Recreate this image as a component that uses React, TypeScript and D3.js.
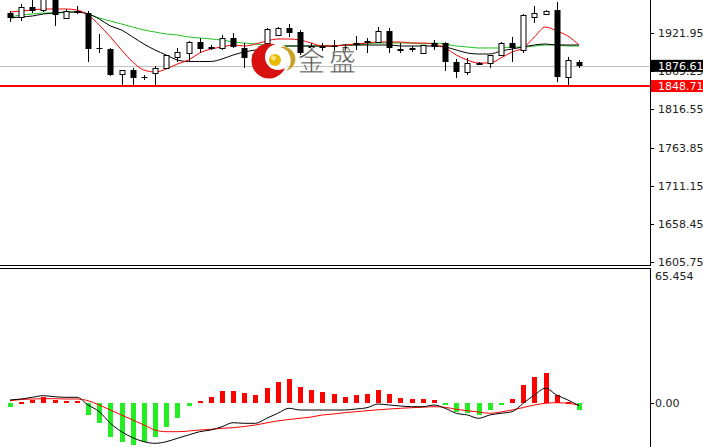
import React from "react";
import * as d3 from "d3";

// ---- Data ----
const openP = [1949.57, 1944.04, 1957.85, 1953.71, 1970.28, 1942.66, 1950.95, 1949.57, 1901.24, 1899.86, 1865.34, 1870.86, 1861.2, 1866.72, 1873.62, 1888.81, 1894.33, 1909.52, 1901.24, 1901.24, 1915.05, 1901.24, 1887.43, 1908.14, 1919.19, 1928.85, 1923.33, 1902.62, 1902.62, 1904.0, 1901.24, 1906.76, 1909.52, 1909.52, 1924.71, 1898.48, 1899.17, 1894.33, 1908.14, 1908.14, 1881.91, 1868.1, 1880.53, 1880.53, 1891.57, 1908.14, 1898.48, 1944.04, 1948.19, 1953.71, 1861.2, 1881.91];
const highP = [1952.33, 1961.99, 1970.28, 1974.42, 1975.8, 1955.09, 1959.23, 1952.33, 1920.57, 1901.24, 1870.86, 1873.62, 1863.96, 1876.38, 1891.57, 1901.24, 1910.9, 1915.05, 1905.38, 1919.19, 1921.95, 1908.14, 1895.72, 1928.85, 1930.23, 1934.38, 1926.09, 1908.14, 1908.14, 1912.28, 1906.76, 1917.81, 1915.05, 1930.23, 1928.85, 1908.14, 1904.0, 1905.38, 1912.28, 1909.52, 1886.05, 1887.43, 1881.91, 1891.57, 1909.52, 1916.43, 1948.19, 1959.23, 1953.71, 1964.75, 1888.81, 1884.67];
const lowP = [1937.14, 1938.52, 1949.57, 1950.95, 1931.62, 1941.28, 1948.19, 1881.91, 1894.33, 1862.58, 1850.15, 1850.15, 1857.05, 1850.15, 1873.62, 1881.91, 1881.91, 1894.33, 1898.48, 1898.48, 1901.24, 1873.62, 1876.38, 1898.48, 1917.81, 1916.43, 1891.57, 1895.72, 1897.1, 1891.57, 1897.1, 1898.48, 1894.33, 1909.52, 1894.33, 1894.33, 1895.72, 1894.33, 1898.48, 1869.48, 1859.81, 1863.96, 1877.76, 1873.62, 1890.19, 1881.91, 1894.33, 1935.76, 1948.19, 1854.29, 1850.15, 1873.62];
const closeP = [1942.66, 1957.85, 1952.33, 1968.9, 1946.8, 1952.33, 1952.33, 1899.86, 1899.86, 1863.96, 1870.86, 1859.81, 1860.51, 1873.62, 1891.57, 1895.72, 1909.52, 1899.86, 1901.93, 1915.05, 1902.62, 1887.43, 1892.95, 1927.47, 1928.85, 1921.95, 1894.33, 1903.31, 1903.31, 1902.62, 1901.93, 1908.14, 1910.9, 1924.71, 1901.24, 1899.17, 1900.55, 1905.38, 1902.62, 1881.91, 1868.1, 1880.53, 1877.76, 1891.57, 1908.14, 1901.24, 1946.8, 1949.57, 1952.33, 1861.2, 1884.67, 1876.61];

const maFast = [1950.95, 1952.33, 1953.71, 1955.09, 1955.09, 1955.09, 1953.71, 1946.8, 1933.0, 1916.43, 1898.48, 1881.91, 1870.86, 1868.1, 1872.24, 1879.15, 1884.67, 1894.33, 1899.86, 1902.62, 1905.38, 1904.0, 1906.76, 1910.9, 1913.67, 1913.67, 1912.28, 1908.14, 1904.0, 1904.0, 1905.38, 1906.76, 1908.14, 1909.52, 1909.52, 1909.52, 1908.14, 1908.14, 1906.76, 1901.24, 1891.57, 1884.67, 1880.53, 1880.53, 1887.43, 1895.72, 1901.24, 1916.43, 1930.23, 1924.71, 1917.81, 1905.38];
const maMid = [1942.66, 1944.04, 1945.42, 1948.19, 1949.57, 1950.95, 1950.95, 1948.19, 1941.28, 1931.62, 1926.09, 1916.43, 1906.76, 1898.48, 1891.57, 1884.67, 1882.6, 1882.6, 1882.6, 1886.05, 1891.57, 1895.72, 1898.48, 1901.24, 1902.62, 1904.0, 1904.0, 1904.0, 1904.0, 1904.0, 1905.38, 1905.38, 1905.38, 1905.38, 1905.38, 1904.0, 1904.0, 1904.0, 1904.0, 1902.62, 1898.48, 1894.33, 1892.95, 1892.95, 1897.1, 1899.86, 1902.62, 1905.38, 1906.76, 1905.38, 1905.38, 1905.38];
const maSlow = [1944.04, 1946.8, 1948.19, 1949.57, 1949.57, 1950.26, 1950.95, 1948.19, 1942.66, 1938.52, 1934.38, 1930.23, 1926.09, 1923.33, 1920.57, 1919.19, 1916.43, 1915.05, 1913.67, 1912.28, 1909.52, 1908.14, 1906.76, 1905.38, 1905.38, 1904.0, 1904.0, 1904.0, 1904.0, 1904.0, 1905.38, 1905.38, 1906.76, 1908.14, 1908.14, 1908.14, 1908.14, 1906.76, 1908.14, 1906.76, 1904.0, 1902.62, 1901.24, 1901.24, 1901.24, 1902.62, 1902.62, 1904.0, 1905.38, 1905.38, 1904.0, 1904.0];

const macdHist = [-2, 0.6, 1.5, 3, 1.5, 1, 1, -6, -10, -16.5, -19, -20.5, -19, -16.5, -11.5, -7.5, -1.5, 1, 3, 6, 6, 5, 4, 7.5, 10.5, 11.5, 8, 6.5, 5.5, 4.5, 3, 4, 4.5, 6.5, 4.5, 2.5, 1.8, 1.8, 1.3, -0.8, -4.5, -5, -6, -3.5, -0.8, 1.8, 8.7, 12.8, 14.7, 4.1, 0.3, -3.5];
const macdMain = [1.47, 1.95, 2.78, 3.57, 3.08, 2.78, 2.78, -0.98, -4.25, -9.92, -14.02, -16.95, -18.91, -19.69, -18.91, -17.24, -15.63, -14.02, -13.19, -11.58, -9.62, -9.92, -9.92, -7.47, -5.03, -2.59, -3.42, -3.42, -3.42, -3.42, -3.42, -2.93, -2.3, -0.49, -0.98, -1.47, -1.81, -1.81, -0.98, -2.59, -5.03, -5.86, -7.47, -5.86, -5.03, -4.25, -0.15, 3.91, 7.18, 3.91, 1.47, -1.32];
const macdSignal = [1.12, 1.71, 1.95, 2.1, 2.1, 1.95, 1.95, 1.12, -0.98, -3.42, -5.86, -8.3, -10.75, -13.19, -14.02, -14.02, -13.68, -13.19, -12.85, -12.36, -12.07, -11.48, -10.75, -9.72, -8.74, -8.06, -7.47, -6.84, -5.86, -5.37, -4.74, -4.25, -3.76, -3.32, -2.93, -2.59, -2.3, -2.05, -1.81, -2.1, -3.08, -3.76, -4.4, -5.03, -4.4, -3.42, -2.2, -0.98, -0.15, 0.15, -0.15, -0.98];

const priceTicks = [1921.95, 1869.25, 1816.55, 1763.85, 1711.15, 1658.45, 1605.75];
const macdTicks = [0];
const macdMax = 65.454;
const lastPrice = 1876.61;
const supportLine = 1848.71;

const W = 703;
const H = 447;
const AXIS_X = 650;
const TOP_BOTTOM = 265;
const BOT_TOP = 268;

export default function App() {
  const idx = d3.range(openP.length);
  const x = d3.scaleLinear().domain([0, openP.length - 1]).range([10, 579]);
  const yP = d3.scaleLinear().domain([1605.75, 1921.95]).range([262, 33]);
  const yM = d3.scaleLinear().domain([0, macdMax]).range([403, 269]);

  const px = (i: number) => Math.round(x(i)) + 0.5;

  const lineP = (arr: number[]) =>
    d3.line<number>().x((_, i) => x(i)).y((d) => yP(d)).curve(d3.curveMonotoneX)(arr) || "";
  const lineM = (arr: number[]) =>
    d3.line<number>().x((_, i) => x(i)).y((d) => yM(d)).curve(d3.curveMonotoneX)(arr) || "";

  const font = "'DejaVu Sans', Verdana, sans-serif";

  return (
    <svg
      width={W}
      height={H}
      style={{ position: "absolute", left: 0, top: 0, background: "#fff" }}
      fontFamily={font}
    >
      <defs>
        <clipPath id="topClip">
          <rect x={0} y={0} width={AXIS_X} height={TOP_BOTTOM} />
        </clipPath>
        <clipPath id="botClip">
          <rect x={0} y={BOT_TOP + 1} width={AXIS_X} height={H - BOT_TOP} />
        </clipPath>
      </defs>
      <rect x={0} y={0} width={W} height={H} fill="#fff" />

      {/* ---- top panel ---- */}
      <g clipPath="url(#topClip)">
        <line x1={0} x2={AXIS_X} y1={Math.round(yP(lastPrice)) + 0.5} y2={Math.round(yP(lastPrice)) + 0.5} stroke="#c0c0c0" strokeWidth={1} />
        <line x1={0} x2={AXIS_X} y1={yP(supportLine)} y2={yP(supportLine)} stroke="#ff0000" strokeWidth={2} />

        <path d={lineP(maSlow)} fill="none" stroke="#1ec01e" strokeWidth={1} />
        <path d={lineP(maMid)} fill="none" stroke="#000" strokeWidth={1} />
        <path d={lineP(maFast)} fill="none" stroke="#ff0000" strokeWidth={1} />

        {idx.map((i) => {
          const o = openP[i];
          const c = closeP[i];
          const bull = c >= o;
          const top = Math.round(yP(Math.max(o, c)));
          const bot = Math.round(yP(Math.min(o, c)));
          const cx = px(i);
          return (
            <g key={i}>
              <line x1={cx} x2={cx} y1={yP(highP[i])} y2={yP(lowP[i])} stroke="#000" strokeWidth={1} />
              {bull ? (
                <rect x={cx - 2.5} y={top + 0.5} width={5} height={Math.max(bot - top, 1)} fill="#fff" stroke="#000" strokeWidth={1} />
              ) : (
                <rect x={cx - 3} y={top} width={6} height={Math.max(bot - top, 1)} fill="#000" />
              )}
            </g>
          );
        })}

        {/* watermark logo */}
        <g>
          <circle cx={269} cy={61} r={17.5} fill="#d81010" />
          <circle cx={278} cy={57} r={13} fill="#fff" />
          <path d="M 280 47 A 14 14 0 0 1 286 71 A 12 12 0 0 0 280 47 Z" fill="#c9a227" />
          <circle cx={275} cy={60} r={6} fill="#e6b800" />
          <circle cx={273.5} cy={58} r={2.5} fill="#f7e27a" />
          <text x={298} y={71} fontSize={27} fill="#4d4d4d" stroke="#fff" strokeWidth={0.6} fontFamily="'Noto Sans CJK SC', sans-serif">金</text>
          <text x={329} y={71} fontSize={27} fill="#4d4d4d" stroke="#fff" strokeWidth={0.6} fontFamily="'Noto Sans CJK SC', sans-serif">盛</text>
        </g>
      </g>

      {/* panel borders */}
      <line x1={0} x2={AXIS_X} y1={TOP_BOTTOM + 0.5} y2={TOP_BOTTOM + 0.5} stroke="#000" />
      <line x1={0} x2={AXIS_X} y1={BOT_TOP + 0.5} y2={BOT_TOP + 0.5} stroke="#000" />
      <line x1={AXIS_X + 0.5} x2={AXIS_X + 0.5} y1={0} y2={TOP_BOTTOM + 1} stroke="#000" />
      <line x1={AXIS_X + 0.5} x2={AXIS_X + 0.5} y1={BOT_TOP} y2={H} stroke="#000" />

      {/* price axis */}
      {priceTicks.map((t) => {
        const ty = Math.round(yP(t)) + 0.5;
        return (
          <g key={t}>
            <line x1={AXIS_X} x2={AXIS_X + 4} y1={ty} y2={ty} stroke="#000" />
            <text x={658} y={ty} dy="0.36em" fontSize={11} fill="#222">{t.toFixed(2)}</text>
          </g>
        );
      })}
      {/* last price box */}
      <g>
        <rect x={AXIS_X + 1} y={yP(lastPrice) - 6} width={W - AXIS_X} height={12} fill="#000" />
        <text x={658} y={yP(lastPrice)} dy="0.36em" fontSize={11} fill="#fff">{lastPrice.toFixed(2)}</text>
      </g>
      <g>
        <rect x={AXIS_X + 1} y={yP(supportLine) - 6} width={W - AXIS_X} height={12} fill="#ff0000" />
        <text x={658} y={yP(supportLine)} dy="0.36em" fontSize={11} fill="#fff">{supportLine.toFixed(2)}</text>
      </g>

      {/* ---- MACD panel ---- */}
      <g clipPath="url(#botClip)">
        {idx.map((i) => {
          const v = macdHist[i];
          const y0 = yM(0);
          const y1 = yM(v);
          const top = Math.round(Math.min(y0, y1));
          const h = Math.max(Math.round(Math.abs(y1 - y0)), 2);
          return (
            <rect key={i} x={Math.round(x(i)) - 2} y={v >= 0 ? top : Math.round(y0)} width={5} height={h} fill={v >= 0 ? "#ff0000" : "#22ee22"} />
          );
        })}
        <path d={lineM(macdSignal)} fill="none" stroke="#ff0000" strokeWidth={1} />
        <path d={lineM(macdMain)} fill="none" stroke="#000" strokeWidth={1} />
      </g>
      <text x={655} y={276} dy="0.36em" fontSize={11} fill="#222">{macdMax.toFixed(3)}</text>
      {macdTicks.map((t) => {
        const ty = Math.round(yM(t)) + 0.5;
        return (
          <g key={t}>
            <line x1={AXIS_X} x2={AXIS_X + 4} y1={ty} y2={ty} stroke="#000" />
            <text x={655} y={ty} dy="0.36em" fontSize={11} fill="#222">{t.toFixed(2)}</text>
          </g>
        );
      })}
    </svg>
  );
}
